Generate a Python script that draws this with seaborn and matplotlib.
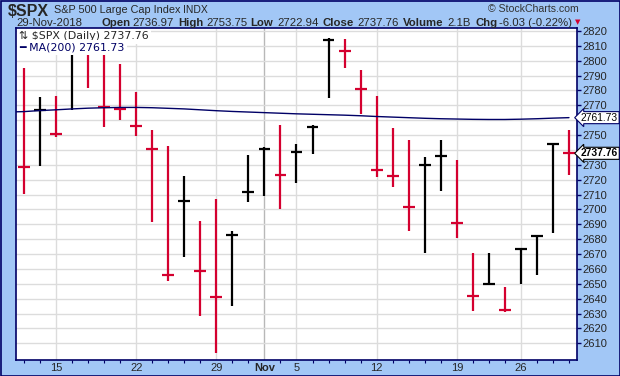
import numpy as np
import matplotlib
matplotlib.use("Agg")
import matplotlib.pyplot as plt
import matplotlib.transforms as mtransforms
from matplotlib.patches import Rectangle
import seaborn as sns

# daily bars (first day is only used as the previous close / MA start, clipped off the left)
dates = ["2018-10-10", "2018-10-11", "2018-10-12", "2018-10-15", "2018-10-16", "2018-10-17",
         "2018-10-18", "2018-10-19", "2018-10-22", "2018-10-23", "2018-10-24", "2018-10-25",
         "2018-10-26", "2018-10-29", "2018-10-30", "2018-10-31", "2018-11-01", "2018-11-02",
         "2018-11-05", "2018-11-06", "2018-11-07", "2018-11-08", "2018-11-09", "2018-11-12",
         "2018-11-13", "2018-11-14", "2018-11-15", "2018-11-16", "2018-11-19", "2018-11-20",
         "2018-11-21", "2018-11-23", "2018-11-26", "2018-11-27", "2018-11-28", "2018-11-29"]
highs = [2874.02, 2795.14, 2775.77, 2775.99, 2813.46, 2816.94, 2806.04, 2797.77, 2778.94,
         2753.59, 2742.59, 2722.70, 2692.38, 2706.85, 2685.43, 2736.69, 2741.67, 2756.55,
         2744.08, 2756.82, 2815.15, 2814.75, 2794.10, 2775.99, 2754.60, 2746.80, 2735.38,
         2746.75, 2733.16, 2670.73, 2670.73, 2647.55, 2674.35, 2682.53, 2744.27, 2753.75]
lows = [2784.86, 2710.51, 2729.44, 2749.03, 2766.91, 2781.81, 2755.18, 2760.27, 2749.22,
        2691.43, 2651.89, 2667.84, 2628.16, 2603.54, 2635.34, 2705.08, 2708.85, 2700.44,
        2717.94, 2737.08, 2774.88, 2794.99, 2764.24, 2722.00, 2714.98, 2685.75, 2670.75,
        2712.16, 2681.09, 2631.52, 2649.82, 2631.09, 2649.97, 2655.89, 2684.38, 2722.94]
closes = [2785.68, 2728.37, 2767.13, 2750.79, 2809.92, 2809.21, 2768.78, 2767.78, 2755.88,
          2740.69, 2656.10, 2705.57, 2658.69, 2641.25, 2682.63, 2711.74, 2740.37, 2723.06,
          2738.31, 2755.45, 2813.89, 2806.83, 2781.01, 2726.22, 2722.18, 2701.58, 2730.20,
          2736.27, 2690.73, 2641.89, 2649.93, 2632.56, 2673.45, 2682.17, 2743.79, 2737.76]
prev_close = 2880.34
ma200 = [2765.5, 2765.8, 2766.5, 2767.0, 2767.6, 2768.1, 2768.4, 2768.6, 2768.6, 2768.4,
         2768.0, 2767.6, 2767.0, 2766.4, 2765.9, 2765.5, 2765.1, 2764.7, 2764.3, 2764.0,
         2763.7, 2763.4, 2763.0, 2762.5, 2762.1, 2761.7, 2761.3, 2761.0, 2760.8, 2760.6,
         2760.5, 2760.5, 2760.7, 2761.0, 2761.4, 2761.73]

tick_days = ["2018-10-15", "2018-10-22", "2018-10-29", "2018-11-01",
             "2018-11-05", "2018-11-12", "2018-11-19", "2018-11-26"]
tick_labels = ["15", "22", "29", "Nov", "5", "12", "19", "26"]
y_ticks = list(range(2610, 2821, 10))

header_stats = [("Open", "2736.97"), ("High", "2753.75"), ("Low", "2722.94"),
                ("Close", "2737.76"), ("Volume", "2.1B"), ("Chg", "-6.03 (-0.22%)")]

BG = "#A2C7F6"
NAVY = "#000066"
RED = "#D4002F"

sns.set_style("white")
plt.rcParams["font.family"] = ["Liberation Sans", "DejaVu Sans"]

W, H = 620, 376
fig = plt.figure(figsize=(W / 100, H / 100), dpi=100, facecolor=BG)
ax = fig.add_axes([16 / W, 1 - 360 / H, (577 - 16) / W, (360 - 28) / H])
ax.set_facecolor("white")

pos = np.arange(len(dates))
hi = np.array(highs)
lo = np.array(lows)
cl = np.array(closes)
prev = np.concatenate([[prev_close], cl[:-1]])
colors = np.where(cl < prev, RED, "black")

ax.vlines(pos, lo, hi, colors=colors, lw=1.6, zorder=3)
ax.hlines(cl, pos - 0.37, pos + 0.37, colors=colors, lw=1.6, zorder=3)
sns.lineplot(x=pos, y=ma200, ax=ax, color=NAVY, lw=1.0, zorder=4)

# axes / ticks
tick_pos = [dates.index(d) for d in tick_days]
ax.set_xticks(tick_pos)
ax.set_xticklabels(tick_labels)
ax.set_xticks(pos[1:], minor=True)
ax.set_yticks(y_ticks)
# labels hidden behind the last-value tags
last_vals = [ma200[-1], closes[-1]]
ax.set_yticklabels([str(v) if min(abs(v - t) for t in last_vals) > 5 else "" for v in y_ticks])
ax.set_xlim(0.5, len(dates) - 0.5)
ax.set_ylim(2598.8, 2822.0)
ax.yaxis.tick_right()
ax.tick_params(axis="y", which="major", direction="out", length=3, width=1,
               color=NAVY, pad=1, labelsize=8)
ax.tick_params(axis="x", which="major", length=0, pad=2, labelsize=8)
ax.tick_params(axis="x", which="minor", direction="out", length=2.5, width=0.8,
               color=NAVY, bottom=True)
for lbl in ax.get_xticklabels():
    if lbl.get_text() == "Nov":
        lbl.set_fontweight("bold")

ax.grid(True, axis="both", which="major", color="#DCDCDC", lw=1)
ax.set_axisbelow(True)
ax.get_xgridlines()[tick_labels.index("Nov")].set_color("#B8B8B8")
for s in ax.spines.values():
    s.set_color(NAVY)
    s.set_linewidth(1.2)
ax.set_xlabel("")
ax.set_ylabel("")

# legend block inside the plot
ax.text(0.006, 0.975, "⇅ $SPX (Daily) 2737.76", transform=ax.transAxes,
        family="DejaVu Sans", fontsize=7.9, va="center", ha="left", zorder=6,
        bbox=dict(facecolor="white", edgecolor="none", pad=1.6))
ax.text(0.006, 0.942, "━ MA(200) 2761.73", transform=ax.transAxes, color=NAVY,
        family="DejaVu Sans", fontsize=7.9, va="center", ha="left", zorder=6,
        bbox=dict(facecolor="white", edgecolor="none", pad=1.8))

# last value tags on the price axis
tr = mtransforms.blended_transform_factory(ax.transAxes, ax.transData)
tag_x = (581 - 16) / (577 - 16)
ax.text(tag_x, ma200[-1], f"{ma200[-1]:.2f}", transform=tr, fontsize=7.4, color="black",
        va="center", ha="left", zorder=7, clip_on=False,
        bbox=dict(boxstyle="larrow,pad=0.1", facecolor="white", edgecolor=NAVY, lw=0.8))
ax.text(tag_x, closes[-1], f"{closes[-1]:.2f}", transform=tr, fontsize=7.4, color="black",
        fontweight="bold", va="center", ha="left", zorder=7, clip_on=False,
        bbox=dict(boxstyle="larrow,pad=0.1", facecolor="white", edgecolor="black", lw=0.8))

# header
def px(x, y):
    return x / W, 1 - y / H

fig.text(*px(8, 11.5), "$SPX", fontsize=11.5, fontweight="bold", va="center", ha="left")
fig.text(*px(54, 10), "S&P 500 Large Cap Index", fontsize=7.8, va="center", ha="left")
fig.text(*px(183, 10), "INDX", fontsize=7.5, va="center", ha="left")
fig.text(*px(488, 9), "© StockCharts.com", fontsize=7.6, color="#333333",
         va="center", ha="left")
fig.text(*px(16, 22.5), "29-Nov-2018", fontsize=8.2, va="center", ha="left")
stat_x = [(101, 132), (178, 206), (250, 277), (322, 357), (403, 447), (476, 499)]
for (name, val), (xn, xv) in zip(header_stats, stat_x):
    fig.text(*px(xn, 22.5), name, fontsize=8.2, fontweight="bold", va="center", ha="left")
    fig.text(*px(xv, 22.5), val, fontsize=8.2, va="center", ha="left")
fig.text(*px(575, 22.5), "▼", fontsize=5, color=RED, family="DejaVu Sans",
         va="center", ha="left")

# outer frame
fig.patches.append(Rectangle((0.5 / W, 0.5 / H), 1 - 1 / W, 1 - 1 / H,
                             transform=fig.transFigure, fill=False,
                             edgecolor=NAVY, lw=1.2))

fig.savefig("out.png", dpi=100, facecolor=BG)
